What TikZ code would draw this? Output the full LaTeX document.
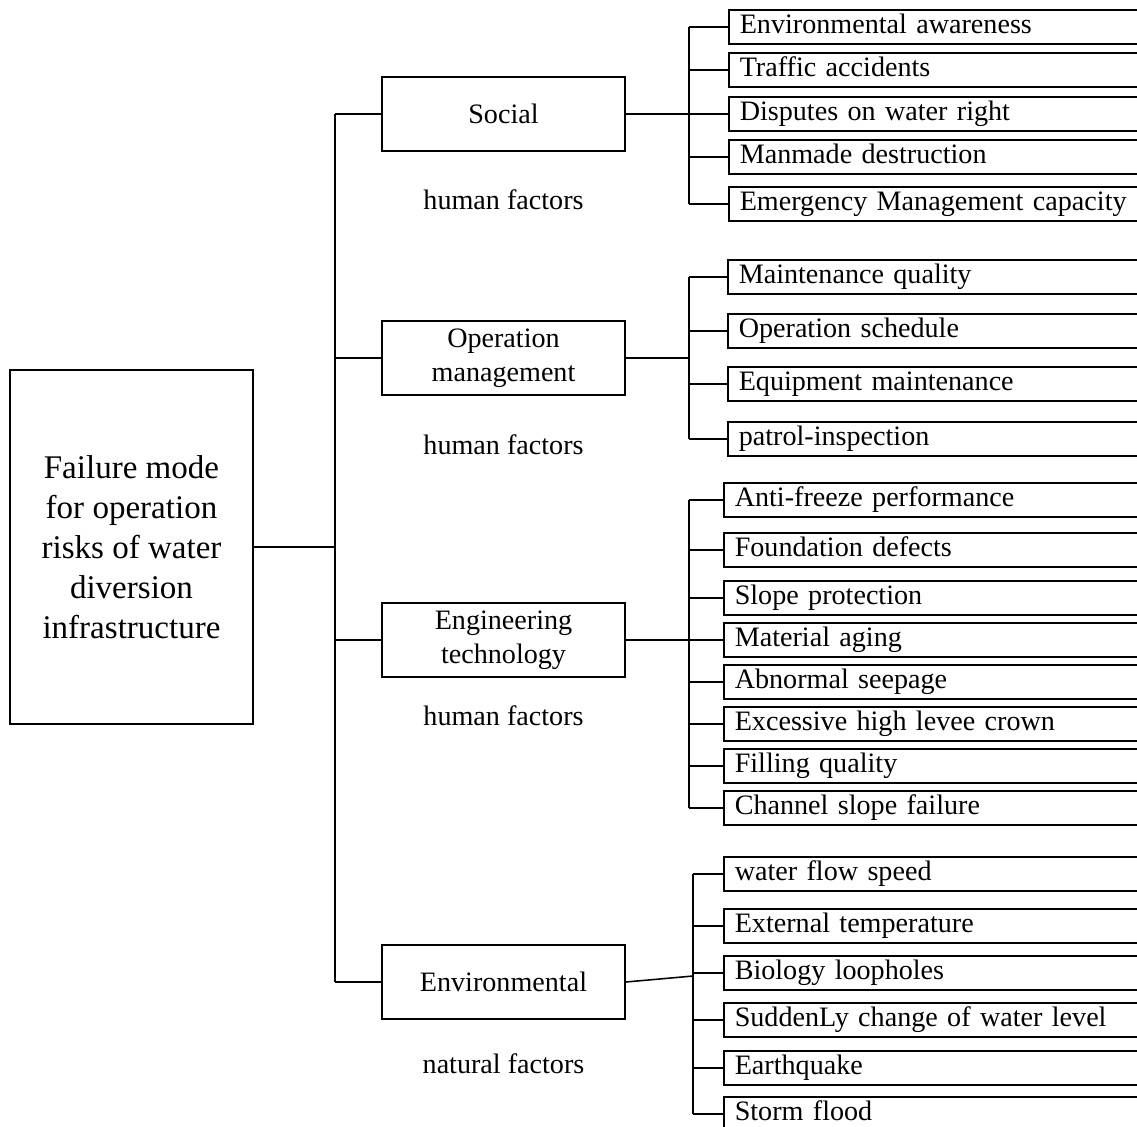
\documentclass[tikz,border=0pt]{standalone}
\usepackage{fontspec}
\setmainfont{Liberation Serif}
\usetikzlibrary{positioning,calc}

\begin{document}
\begin{tikzpicture}[x=0.025cm, y=-0.025cm, line width=1.1pt]
  \tikzstyle{rootbox} = [rectangle, draw, minimum width=60.75mm, minimum height=88.5mm, align=center, font=\fontsize{23.5}{28.5}\selectfont]
  \tikzstyle{catbox} = [rectangle, draw, minimum width=60.75mm, minimum height=18.5mm, align=center, font=\fontsize{20}{24}\selectfont]
  \tikzstyle{factor} = [font=\fontsize{20}{24}\selectfont]
  \tikzstyle{leaf} = [rectangle, draw, anchor=west, text width=100mm, inner xsep=2.75mm, inner ysep=0pt, minimum height=8.5mm, text height=14pt, text depth=5.4pt, align=left, font=\fontsize{20}{24}\selectfont]

  \clip (0,0) rectangle (1137,1126);

  % root and the four groups
  \node [rootbox] (root) at (131.5,547) {Failure mode\\for operation\\risks of water\\diversion\\infrastructure};
  \node [catbox] (social) at (503.5,114) {Social};
  \node [catbox] (operation) at (503.5,358) {Operation\\management};
  \node [catbox] (engineering) at (503.5,640) {Engineering\\technology};
  \node [catbox] (environment) at (503.5,982) {Environmental};

  \node [factor] (f1) at (503.5,200) {human factors};
  \node [factor] (f2) at (503.5,445) {human factors};
  \node [factor] (f3) at (503.5,716) {human factors};
  \node [factor] (f4) at (503.5,1064) {natural factors};

  % social
  \node [leaf] (a1) at (728,27) {Environmental awareness};
  \node [leaf] (a2) at (728,70) {Traffic accidents};
  \node [leaf] (a3) at (728,114) {Disputes on water right};
  \node [leaf] (a4) at (728,157) {Manmade destruction};
  \node [leaf] (a5) at (728,204) {Emergency Management capacity};

  % operation management
  \node [leaf] (b1) at (727,277) {Maintenance quality};
  \node [leaf] (b2) at (727,331) {Operation schedule};
  \node [leaf] (b3) at (727,384) {Equipment maintenance};
  \node [leaf] (b4) at (727,439) {patrol-inspection};

  % engineering technology
  \node [leaf] (c1) at (723,500) {Anti-freeze performance};
  \node [leaf] (c2) at (723,550) {Foundation defects};
  \node [leaf] (c3) at (723,598) {Slope protection};
  \node [leaf] (c4) at (723,640) {Material aging};
  \node [leaf] (c5) at (723,682) {Abnormal seepage};
  \node [leaf] (c6) at (723,724) {Excessive high levee crown};
  \node [leaf] (c7) at (723,766) {Filling quality};
  \node [leaf] (c8) at (723,808) {Channel slope failure};

  % environmental
  \node [leaf] (d1) at (723,874) {water flow speed};
  \node [leaf] (d2) at (723,926) {External temperature};
  \node [leaf] (d3) at (723,973) {Biology loopholes};
  \node [leaf] (d4) at (723,1020) {SuddenLy change of water level};
  \node [leaf] (d5) at (723,1068) {Earthquake};
  \node [leaf] (d6) at (723,1114) {Storm flood};

  % main spine
  \coordinate (sp) at (335,547);
  \draw (root.east) -- (sp);
  \draw (social.west -| sp) -- (environment.west -| sp);
  \draw (social.west -| sp) -- (social.west)
        (operation.west -| sp) -- (operation.west)
        (engineering.west -| sp) -- (engineering.west)
        (environment.west -| sp) -- (environment.west);

  % group spines
  \coordinate (ja) at (689,114);
  \draw (social.east) -- (ja);
  \draw (a1.west -| ja) -- (a5.west -| ja);
  \draw (a1.west -| ja) -- (a1.west) (a2.west -| ja) -- (a2.west)
        (a3.west -| ja) -- (a3.west) (a4.west -| ja) -- (a4.west)
        (a5.west -| ja) -- (a5.west);

  \coordinate (jb) at (689,358);
  \draw (operation.east) -- (jb);
  \draw (b1.west -| jb) -- (b4.west -| jb);
  \draw (b1.west -| jb) -- (b1.west) (b2.west -| jb) -- (b2.west)
        (b3.west -| jb) -- (b3.west) (b4.west -| jb) -- (b4.west);

  \coordinate (jc) at (689,640);
  \draw (engineering.east) -- (jc);
  \draw (c1.west -| jc) -- (c8.west -| jc);
  \draw (c1.west -| jc) -- (c1.west) (c2.west -| jc) -- (c2.west)
        (c3.west -| jc) -- (c3.west) (c4.west -| jc) -- (c4.west)
        (c5.west -| jc) -- (c5.west) (c6.west -| jc) -- (c6.west)
        (c7.west -| jc) -- (c7.west) (c8.west -| jc) -- (c8.west);

  \coordinate (jd) at (693,976);
  \draw (environment.east) -- (jd);
  \draw (d1.west -| jd) -- (d6.west -| jd);
  \draw (d1.west -| jd) -- (d1.west) (d2.west -| jd) -- (d2.west)
        (d3.west -| jd) -- (d3.west) (d4.west -| jd) -- (d4.west)
        (d5.west -| jd) -- (d5.west) (d6.west -| jd) -- (d6.west);
\end{tikzpicture}
\end{document}
